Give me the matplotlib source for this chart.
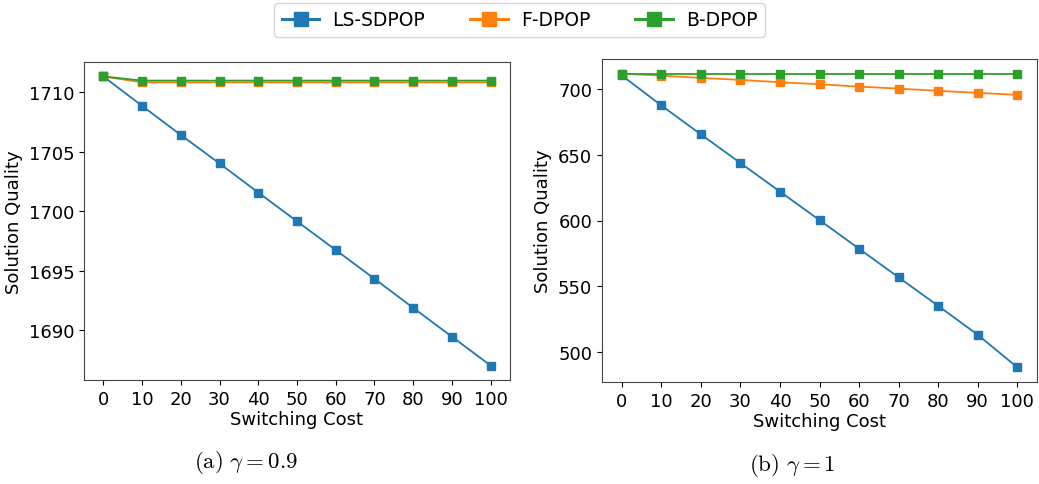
import matplotlib
matplotlib.use("Agg")
import matplotlib.pyplot as plt

plt.rcParams['mathtext.fontset'] = 'cm'

costs = [0, 10, 20, 30, 40, 50, 60, 70, 80, 90, 100]

# gamma = 0.9
ls_a = [1711.35, 1708.87, 1706.42, 1704.02, 1701.57, 1699.15, 1696.73, 1694.31, 1691.86, 1689.43, 1687.0]
f_a = [1711.35, 1710.85, 1710.85, 1710.85, 1710.85, 1710.85, 1710.85, 1710.85, 1710.85, 1710.85, 1710.85]
b_a = [1711.35, 1711.0, 1711.0, 1711.0, 1711.0, 1711.0, 1711.0, 1711.0, 1711.0, 1711.0, 1711.0]

# gamma = 1
ls_b = [710.0, 687.2, 665.3, 643.6, 621.9, 600.3, 578.6, 556.9, 535.3, 513.4, 488.7]
f_b = [711.3, 709.8, 708.1, 706.6, 704.8, 703.3, 701.5, 700.0, 698.3, 696.8, 695.2]
b_b = [711.3, 711.3, 711.3, 711.3, 711.3, 711.3, 711.3, 711.3, 711.3, 711.3, 711.3]

names = ['LS-SDPOP', 'F-DPOP', 'B-DPOP']
colors = ['#1f77b4', '#ff7f0e', '#2ca02c']

W, H = 1039, 485
fig = plt.figure(figsize=(W / 100, H / 100), dpi=100)
ax1 = fig.add_axes([84 / W, 1 - 381 / H, 426 / W, 318 / H])
ax2 = fig.add_axes([602 / W, 1 - 383 / H, 435 / W, 323 / H])

fs = 13
for ax, series in [(ax1, [ls_a, f_a, b_a]), (ax2, [ls_b, f_b, b_b])]:
    for vals, name, c in zip(series, names, colors):
        ax.plot(costs, vals, marker='s', markersize=5.5, linewidth=1.3, color=c, label=name)
    ax.set_xticks(costs)
    ax.tick_params(labelsize=fs)
    ax.set_xlabel('Switching Cost', fontsize=fs, labelpad=2)
    ax.set_ylabel('Solution Quality', fontsize=fs)
    for s in ax.spines.values():
        s.set_color('#444444')

ax1.set_yticks([1690, 1695, 1700, 1705, 1710])
ax2.set_yticks([500, 550, 600, 650, 700])

handles, labels = ax1.get_legend_handles_labels()
leg = fig.legend(handles, labels, loc='upper center', bbox_to_anchor=(0.5, 1.0), ncol=3,
                 fontsize=13.5, markerscale=1.8, handlelength=2.0, handletextpad=0.7,
                 columnspacing=2.4, borderaxespad=0.2)
for h in leg.get_lines():
    h.set_linewidth(2.2)

fig.text(246 / W, 1 - 463 / H, r'$\mathrm{(a)}\ \gamma = 0.9$', ha='center', va='center', fontsize=16.5)
fig.text(792 / W, 1 - 466 / H, r'$\mathrm{(b)}\ \gamma = 1$', ha='center', va='center', fontsize=16.5)

fig.savefig('out.png', dpi=100)
